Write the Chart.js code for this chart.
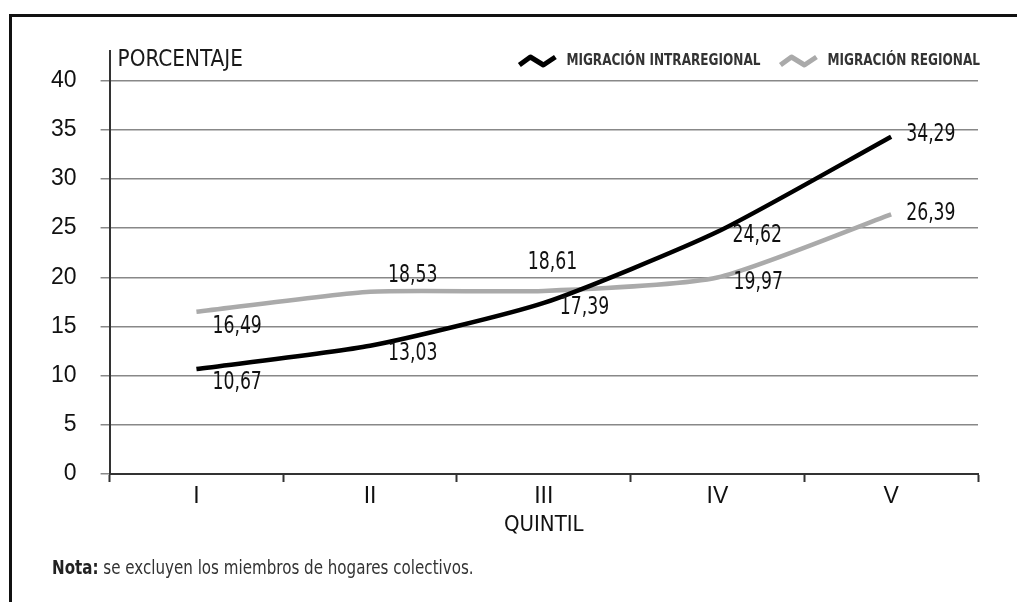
<!DOCTYPE html>
<html lang="es">
<head>
<meta charset="utf-8">
<title>Migración por quintil</title>
<script src="https://cdn.jsdelivr.net/npm/chart.js@4.4.1/dist/chart.umd.min.js"></script>
<style>
  html, body { margin: 0; padding: 0; background: #fff; overflow: hidden; }
  #wrap { position: relative; width: 1017px; height: 602px; }
  #frame { position: absolute; left: 9px; top: 14px; width: 1100px; height: 700px;
           border-top: 3px solid #111; border-left: 3px solid #111; }
  #chart { position: absolute; left: 0; top: 0; }
  #nota { position: absolute; left: 52px; top: 555px; white-space: nowrap;
          font: 20px 'Liberation Sans Narrow', 'DejaVu Sans Condensed', sans-serif; color: #333;
          transform: scaleX(0.84); transform-origin: left top; }
  #nota b { color: #222; }
</style>
</head>
<body>
<div id="wrap">
  <div id="frame"></div>
  <canvas id="chart" width="1017" height="602"></canvas>
  <div id="nota"><b>Nota:</b> se excluyen los miembros de hogares colectivos.</div>
</div>
<script>
// quintiles and percentages
var quintiles = ['I', 'II', 'III', 'IV', 'V'];
var intraregional = [10.67, 13.03, 17.39, 24.62, 34.29];
var regional = [16.49, 18.53, 18.61, 19.97, 26.39];
var seriesNames = ['MIGRACIÓN INTRAREGIONAL', 'MIGRACIÓN REGIONAL'];

// where each value label sits relative to its point [dx, dy]
var labelOffsets = [
  [[16, 14], [18, 8], [16, 5], [15, 4], [15, -2]],
  [[16, 15], [18, -16], [-16, -28], [16, 5], [15, -1]]
];

var NARROW = "'Liberation Sans Narrow', 'DejaVu Sans Condensed', sans-serif";
var REGULAR = "'Liberation Sans', Arial, sans-serif";

function fmt(v) { return v.toFixed(2).replace('.', ','); }

// condensed text: squeeze horizontally around the left edge
function narrowText(ctx, text, x, y, sx) {
  ctx.save();
  ctx.translate(x, y);
  ctx.scale(sx, 1);
  ctx.fillText(text, 0, 0);
  ctx.restore();
}

// value labels next to each point
var valueLabels = {
  id: 'valueLabels',
  afterDatasetsDraw: function(chart) {
    var ctx = chart.ctx;
    ctx.save();
    ctx.font = '24px ' + NARROW;
    ctx.fillStyle = '#111';
    ctx.textAlign = 'left';
    ctx.textBaseline = 'middle';
    chart.data.datasets.forEach(function(ds, i) {
      var meta = chart.getDatasetMeta(i);
      meta.data.forEach(function(pt, j) {
        var off = labelOffsets[i][j];
        narrowText(ctx, fmt(ds.data[j]), pt.x + off[0], pt.y + off[1], 0.8);
      });
    });
    ctx.restore();
  }
};

// axis title at top left and the legend with wave icons at top right
var headers = {
  id: 'headers',
  afterDraw: function(chart) {
    var ctx = chart.ctx, area = chart.chartArea;
    ctx.save();
    ctx.font = '23px ' + NARROW;
    ctx.fillStyle = '#1a1a1a';
    ctx.textBaseline = 'middle';
    ctx.textAlign = 'left';
    narrowText(ctx, 'PORCENTAJE', area.left + 8, 60, 0.97);

    ctx.font = 'bold 16px ' + NARROW;
    var sx = 0.84;
    var x = area.right + 2, y = 61;
    for (var i = chart.data.datasets.length - 1; i >= 0; i--) {
      var ds = chart.data.datasets[i];
      var w = ctx.measureText(ds.label).width * sx;
      x -= w;
      ctx.fillStyle = '#333';
      narrowText(ctx, ds.label, x, y, sx);
      x -= 11 + 36;
      ctx.beginPath();
      ctx.moveTo(x, y + 4);
      ctx.lineTo(x + 11, y - 4);
      ctx.lineTo(x + 24, y + 4);
      ctx.lineTo(x + 36, y - 4);
      ctx.lineWidth = 5;
      ctx.lineJoin = 'round';
      ctx.strokeStyle = ds.borderColor;
      ctx.stroke();
      x -= 20;
    }
    ctx.restore();
  }
};

new Chart(document.getElementById('chart'), {
  type: 'line',
  data: {
    labels: quintiles,
    datasets: [
      { label: seriesNames[0], data: intraregional, borderColor: '#000', borderWidth: 4.5,
        pointRadius: 0, tension: 0.2, fill: false },
      { label: seriesNames[1], data: regional, borderColor: '#aaaaaa', borderWidth: 4.5,
        pointRadius: 0, tension: 0.2, fill: false }
    ]
  },
  options: {
    responsive: false,
    animation: false,
    layout: { padding: { left: 27, right: 39, top: 51, bottom: 64 } },
    plugins: { legend: { display: false }, tooltip: { enabled: false } },
    scales: {
      x: {
        offset: true,
        grid: { offset: true, drawOnChartArea: false, drawTicks: true, tickLength: 8,
                color: '#333', tickWidth: 2 },
        border: { display: true, color: '#333', width: 2 },
        ticks: { color: '#111', font: { family: REGULAR, size: 23 }, padding: 1 },
        title: { display: true, text: 'QUINTIL', color: '#111',
                 font: { family: NARROW, size: 22 }, padding: { top: 0, bottom: 0 } }
      },
      y: {
        min: 0, max: 43,
        afterBuildTicks: function(s) { s.ticks = s.ticks.filter(function(t) { return t.value % 5 === 0; }); },
        ticks: { stepSize: 5, color: '#111', font: { family: REGULAR, size: 23 }, padding: 24 },
        grid: { color: '#888', lineWidth: 1.5, tickLength: 9 },
        border: { display: true, color: '#333', width: 2 }
      }
    }
  },
  plugins: [valueLabels, headers]
});
</script>
</body>
</html>
